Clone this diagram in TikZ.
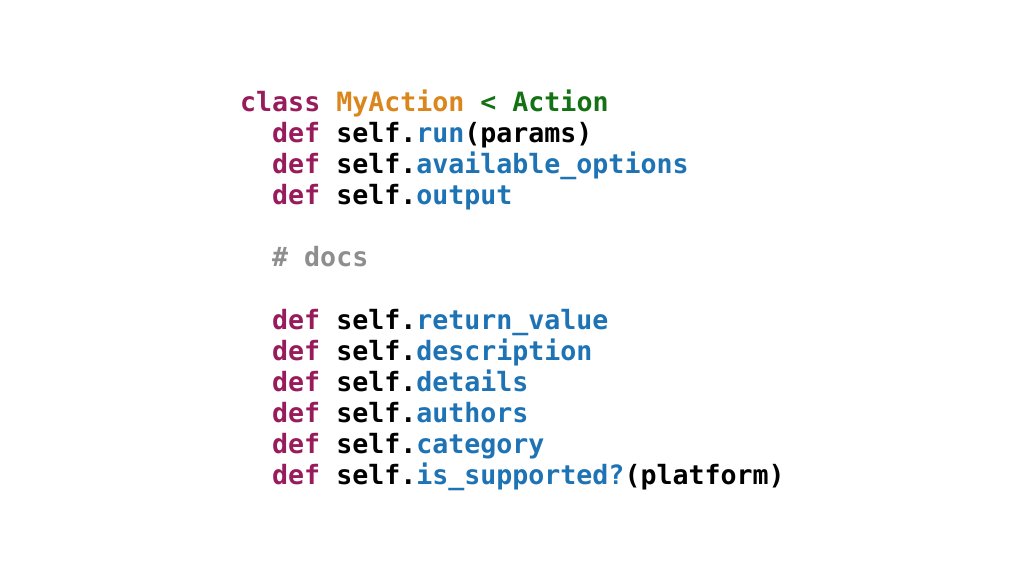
\documentclass[tikz,border=0pt]{standalone}
\usepackage{fontspec}
\setmonofont{DejaVu Sans Mono}
\usepackage{xcolor}
\definecolor{kwcol}{HTML}{981B5B}
\definecolor{clscol}{HTML}{DA861C}
\definecolor{supcol}{HTML}{147114}
\definecolor{methcol}{HTML}{1E73B4}
\definecolor{cmtcol}{HTML}{8E8E8E}
\newcommand{\kw}[1]{\textcolor{kwcol}{#1}}
\newcommand{\meth}[1]{\textcolor{methcol}{#1}}
\tikzset{codeline/.style={anchor=base west,inner sep=0pt,
  font=\ttfamily\bfseries\fontsize{26.6}{31}\selectfont}}

\begin{document}
\begin{tikzpicture}[x=1pt,y=1pt]
  \fill[white] (0,0) rectangle (1024,576);
  \useasboundingbox (0,0) rectangle (1024,576);
  \node[codeline] (cls)     at (240,464) {\kw{class} \textcolor{clscol}{MyAction} \textcolor{supcol}{< Action}};
  \node[codeline] (run)     at (272,433) {\kw{def} self.\meth{run}(params)};
  \node[codeline] (avail)   at (272,402) {\kw{def} self.\meth{available\_options}};
  \node[codeline] (output)  at (272,371) {\kw{def} self.\meth{output}};
  \node[codeline] (docs)    at (272,309) {\textcolor{cmtcol}{\# docs}};
  \node[codeline] (retval)  at (272,247) {\kw{def} self.\meth{return\_value}};
  \node[codeline] (descr)   at (272,216) {\kw{def} self.\meth{description}};
  \node[codeline] (details) at (272,185) {\kw{def} self.\meth{details}};
  \node[codeline] (authors) at (272,154) {\kw{def} self.\meth{authors}};
  \node[codeline] (categ)   at (272,123) {\kw{def} self.\meth{category}};
  \node[codeline] (supp)    at (272,92)  {\kw{def} self.\meth{is\_supported?}(platform)};
\end{tikzpicture}
\end{document}
